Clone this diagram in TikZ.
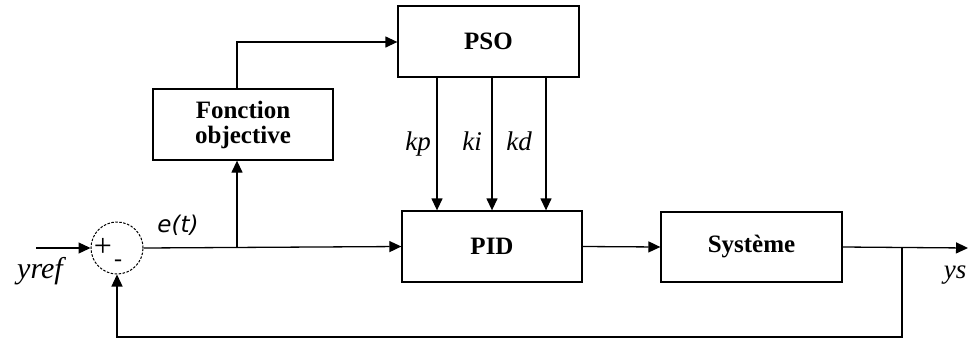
\documentclass[tikz,border=0pt]{standalone}
\usepackage{fontspec}
\setmainfont{Liberation Serif}
\newfontfamily\labelsans{DejaVu Sans}
\usetikzlibrary{arrows.meta}
\begin{document}
\begin{tikzpicture}[x=1pt,y=-1pt,
  blockbox/.style={draw,line width=1.3pt,rectangle,inner sep=0pt,
    font=\fontsize{25}{25}\selectfont\bfseries,align=center},
  wire/.style={line width=1.3pt},
  arr/.style={wire,-{Triangle[length=12pt,width=11pt]}},
  itlabel/.style={font=\fontsize{27}{28}\selectfont\itshape,inner sep=0pt,anchor=base}]
\useasboundingbox (0,0) rectangle (973,343);

% blocks
\node[blockbox,minimum width=181pt,minimum height=71pt] (pso) at (488.5,41.5) {PSO};
\node[blockbox,minimum width=180pt,minimum height=71pt] (pid) at (492,246.5) {PID};
\node[blockbox,minimum width=180pt,minimum height=71pt] (fobj) at (243,124.5) {Fonction\\objective};
\node[blockbox,minimum width=181pt,minimum height=70pt] (sys) at (751.5,247) {Système};

% summing junction
\node[draw,dash pattern=on 2.5pt off 1.5pt,circle,line width=1pt,minimum size=52pt,inner sep=0pt] (sum) at (117,248) {};
\node[font=\fontsize{32}{32}\selectfont,inner sep=0pt] (plus) at (103,247) {+};
\node[font=\fontsize{24}{24}\selectfont,inner sep=0pt] (minus) at (118,263) {-};

% helper points
\coordinate (in) at (36,248);
\coordinate (split) at (237,248);
\coordinate (fbtop) at (237,42);
\coordinate (out) at (968,248);
\coordinate (tap) at (902,248);
\coordinate (tapdown) at (902,337);
\coordinate (sumdown) at (117,337);

% signal paths
\draw[arr] (in) -- (sum.west);
\draw[arr] (sum.east) -- (pid.west);
\draw[arr] (split) -- (split |- fobj.south);
\draw[arr] (split |- fobj.north) -- (fbtop) -- (pso.west |- fbtop);
\draw[arr] (pid.east) -- (sys.west);
\draw[arr] (sys.east) -- (out);
\draw[arr] (tap) -- (tapdown) -- (sumdown) -- (sum.south);

% gains
\draw[arr] (pso.south -| 437,0) -- (pid.north -| 437,0);
\draw[arr] (pso.south -| 492,0) -- (pid.north -| 492,0);
\draw[arr] (pso.south -| 546,0) -- (pid.north -| 546,0);

% labels
\node[itlabel] (kp) at (418,150) {kp};
\node[itlabel] (ki) at (472,150) {ki};
\node[itlabel] (kd) at (519,150) {kd};
\node[itlabel,font=\fontsize{30}{30}\selectfont\itshape] (yref) at (40,278) {yref};
\node[itlabel] (ys) at (955,278) {ys};
\node[font=\fontsize{23}{25}\selectfont\labelsans\itshape,inner sep=0pt,anchor=base] (et) at (178,232) {e(t)};
\end{tikzpicture}
\end{document}
